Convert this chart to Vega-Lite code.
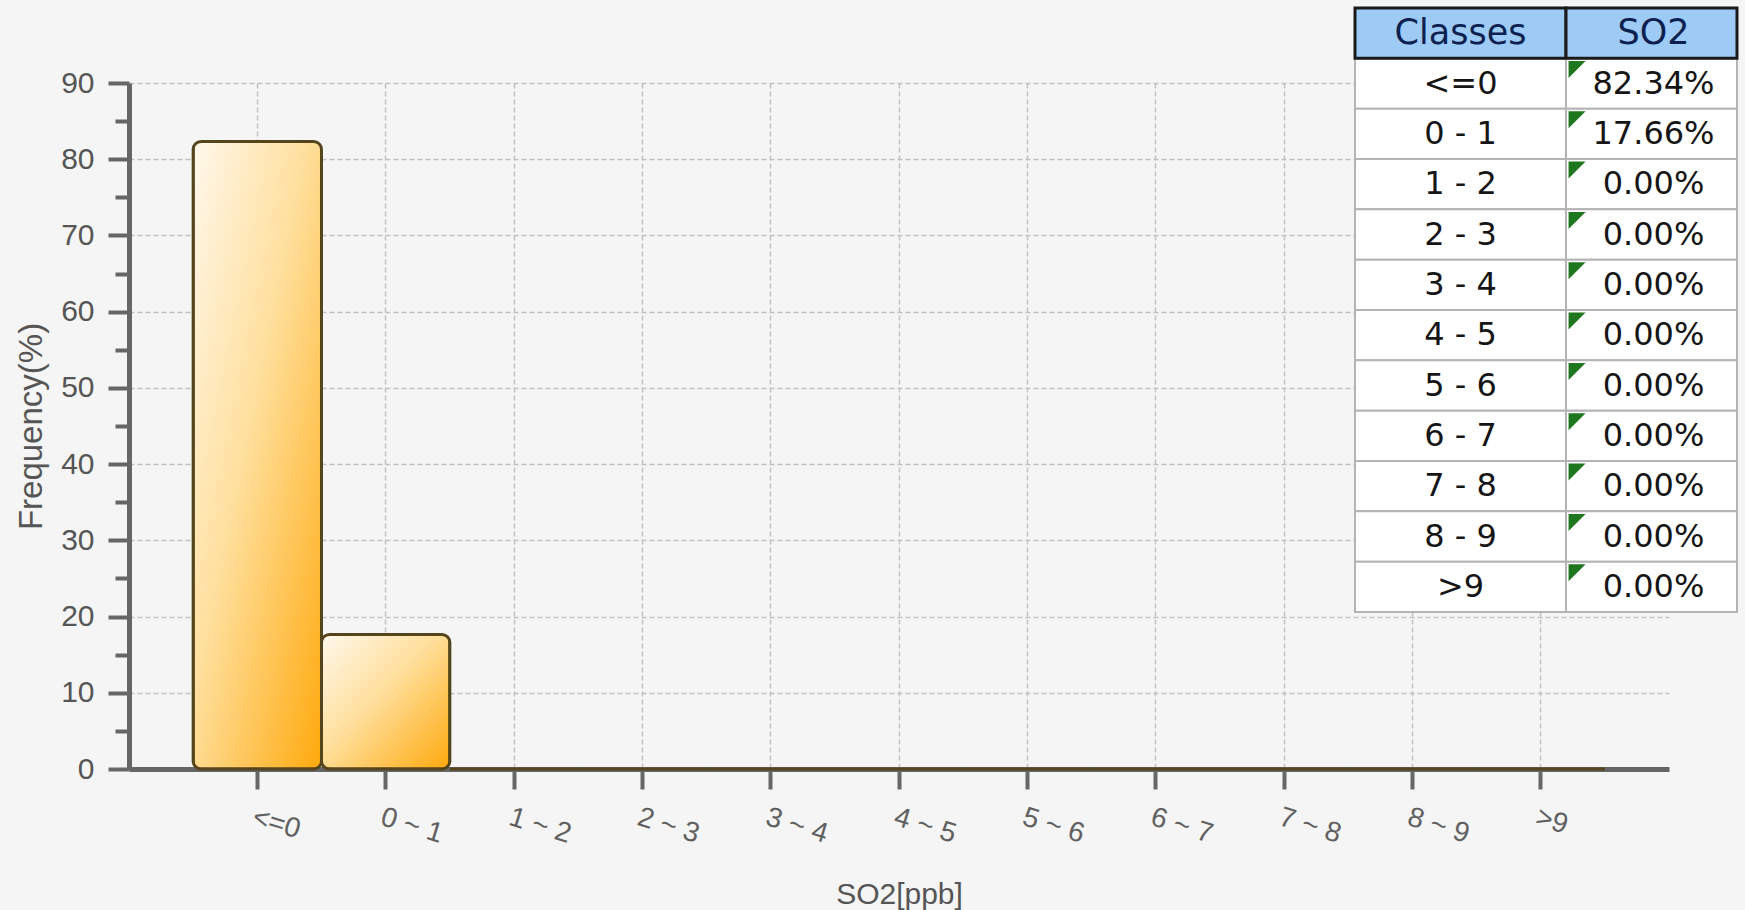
{
  "$schema": "https://vega.github.io/schema/vega-lite/v6.json",
  "width": 1540,
  "height": 686,
  "autosize": {"type": "none"},
  "padding": {"left": 129, "top": 83, "right": 76, "bottom": 141},
  "background": "#f5f5f5",
  "config": {"view": {"stroke": null}},
  "datasets": {
    "hist": [
      {"cls": "<=0", "v": 82.34},
      {"cls": "0 - 1", "v": 17.66},
      {"cls": "1 - 2", "v": 0},
      {"cls": "2 - 3", "v": 0},
      {"cls": "3 - 4", "v": 0},
      {"cls": "4 - 5", "v": 0},
      {"cls": "5 - 6", "v": 0},
      {"cls": "6 - 7", "v": 0},
      {"cls": "7 - 8", "v": 0},
      {"cls": "8 - 9", "v": 0},
      {"cls": ">9", "v": 0}
    ],
    "table": [
      {"row": "hdr", "col": "Classes", "text": "Classes"},
      {"row": "hdr", "col": "SO2", "text": "SO2"},
      {"row": "<=0", "col": "Classes", "text": "<=0"},
      {"row": "<=0", "col": "SO2", "text": "82.34%"},
      {"row": "0 - 1", "col": "Classes", "text": "0 - 1"},
      {"row": "0 - 1", "col": "SO2", "text": "17.66%"},
      {"row": "1 - 2", "col": "Classes", "text": "1 - 2"},
      {"row": "1 - 2", "col": "SO2", "text": "0.00%"},
      {"row": "2 - 3", "col": "Classes", "text": "2 - 3"},
      {"row": "2 - 3", "col": "SO2", "text": "0.00%"},
      {"row": "3 - 4", "col": "Classes", "text": "3 - 4"},
      {"row": "3 - 4", "col": "SO2", "text": "0.00%"},
      {"row": "4 - 5", "col": "Classes", "text": "4 - 5"},
      {"row": "4 - 5", "col": "SO2", "text": "0.00%"},
      {"row": "5 - 6", "col": "Classes", "text": "5 - 6"},
      {"row": "5 - 6", "col": "SO2", "text": "0.00%"},
      {"row": "6 - 7", "col": "Classes", "text": "6 - 7"},
      {"row": "6 - 7", "col": "SO2", "text": "0.00%"},
      {"row": "7 - 8", "col": "Classes", "text": "7 - 8"},
      {"row": "7 - 8", "col": "SO2", "text": "0.00%"},
      {"row": "8 - 9", "col": "Classes", "text": "8 - 9"},
      {"row": "8 - 9", "col": "SO2", "text": "0.00%"},
      {"row": ">9", "col": "Classes", "text": ">9"},
      {"row": ">9", "col": "SO2", "text": "0.00%"}
    ]
  },
  "layer": [
    {
      "data": {"name": "hist"},
      "mark": {
        "type": "bar",
        "cornerRadius": 8,
        "stroke": "#55451c",
        "strokeWidth": 3,
        "fill": {
          "gradient": "linear",
          "x1": 0, "y1": 0, "x2": 1, "y2": 1,
          "stops": [
            {"offset": 0, "color": "#fff8ec"},
            {"offset": 0.45, "color": "#ffdf9c"},
            {"offset": 1, "color": "#ffa90c"}
          ]
        }
      },
      "encoding": {
        "x": {
          "field": "cls",
          "type": "nominal",
          "sort": null,
          "scale": {"paddingInner": 0, "paddingOuter": 0.5},
          "axis": {
            "title": "SO2[ppb]",
            "titleFont": "Liberation Sans",
            "titleFontSize": 30,
            "titleFontWeight": "normal",
            "titleColor": "#555555",
            "titlePadding": 31,
            "labelAngle": 17,
            "labelAlign": "left",
            "labelBaseline": "top",
            "labelFont": "Liberation Sans",
            "labelFontSize": 28,
            "labelColor": "#606060",
            "labelPadding": 14,
            "labelExpr": "replace(datum.label, ' - ', ' ~ ')",
            "domainColor": "#666666",
            "domainWidth": 5,
            "tickColor": "#666666",
            "tickWidth": 4,
            "tickSize": 20,
            "grid": true,
            "gridColor": "#c2c2c2",
            "gridDash": [5, 3],
            "gridWidth": 1.5
          }
        },
        "y": {
          "field": "v",
          "type": "quantitative",
          "scale": {"domain": [0, 90], "nice": false},
          "axis": {
            "values": [0, 5, 10, 15, 20, 25, 30, 35, 40, 45, 50, 55, 60, 65, 70, 75, 80, 85, 90],
            "labelExpr": "datum.value % 10 === 0 ? datum.label : ''",
            "title": "Frequency(%)",
            "titleFont": "Liberation Sans",
            "titleFontSize": 33,
            "titleFontWeight": "normal",
            "titleColor": "#555555",
            "titlePadding": 12,
            "labelFont": "Liberation Sans",
            "labelFontSize": 30,
            "labelColor": "#555555",
            "labelPadding": 14,
            "domainColor": "#666666",
            "domainWidth": 5,
            "tickColor": "#666666",
            "tickWidth": 4,
            "tickSize": {"condition": {"test": "datum.value % 10 !== 0", "value": 14}, "value": 21},
            "grid": true,
            "gridColor": "#c2c2c2",
            "gridDash": [5, 3],
            "gridWidth": 1.5,
            "gridOpacity": {"condition": {"test": "datum.value % 10 !== 0", "value": 0}, "value": 1}
          }
        }
      }
    },
    {
      "data": {"name": "table"},
      "encoding": {
        "y": {
          "field": "row",
          "type": "nominal",
          "scale": {
            "domain": ["hdr", "<=0", "0 - 1", "1 - 2", "2 - 3", "3 - 4", "4 - 5", "5 - 6", "6 - 7", "7 - 8", "8 - 9", ">9"],
            "range": [-75, 529],
            "paddingInner": 0,
            "paddingOuter": 0
          },
          "axis": null
        }
      },
      "layer": [
        {
          "transform": [{"filter": "datum.col === 'Classes'"}],
          "encoding": {
            "x": {
              "field": "col",
              "type": "nominal",
              "scale": {"domain": ["Classes"], "range": [1226, 1437], "paddingInner": 0, "paddingOuter": 0},
              "axis": null
            }
          },
          "layer": [
            {
              "transform": [{"filter": "datum.row !== 'hdr'"}],
              "mark": {"type": "rect", "fill": "#ffffff", "stroke": "#b4b4b4", "strokeWidth": 2}
            },
            {
              "transform": [{"filter": "datum.row === 'hdr'"}],
              "mark": {"type": "rect", "fill": "#9dcbf5", "stroke": "#1a1a1a", "strokeWidth": 3}
            },
            {
              "mark": {"type": "text", "font": "DejaVu Sans", "align": "center", "baseline": "middle"},
              "encoding": {
                "text": {"field": "text"},
                "size": {"condition": {"test": "datum.row === 'hdr'", "value": 35}, "value": 32},
                "color": {"condition": {"test": "datum.row === 'hdr'", "value": "#0d2150"}, "value": "#151515"}
              }
            }
          ]
        },
        {
          "transform": [{"filter": "datum.col === 'SO2'"}],
          "encoding": {
            "x": {
              "field": "col",
              "type": "nominal",
              "scale": {"domain": ["SO2"], "range": [1437, 1608], "paddingInner": 0, "paddingOuter": 0},
              "axis": null
            }
          },
          "layer": [
            {
              "transform": [{"filter": "datum.row !== 'hdr'"}],
              "mark": {"type": "rect", "fill": "#ffffff", "stroke": "#b4b4b4", "strokeWidth": 2}
            },
            {
              "transform": [{"filter": "datum.row === 'hdr'"}],
              "mark": {"type": "rect", "fill": "#9dcbf5", "stroke": "#1a1a1a", "strokeWidth": 3}
            },
            {
              "mark": {"type": "text", "font": "DejaVu Sans", "align": "center", "baseline": "middle", "dx": 2},
              "encoding": {
                "text": {"field": "text"},
                "size": {"condition": {"test": "datum.row === 'hdr'", "value": 35}, "value": 32},
                "color": {"condition": {"test": "datum.row === 'hdr'", "value": "#0d2150"}, "value": "#151515"}
              }
            },
            {
              "transform": [{"filter": "datum.row !== 'hdr'"}],
              "mark": {"type": "point", "shape": "M0.3,0.3 L2.3,0.3 L0.3,2.3 Z", "filled": true, "size": 289, "opacity": 1, "color": "#1e761e"},
              "encoding": {
                "x": {"field": "col", "type": "nominal", "bandPosition": 0, "axis": null},
                "y": {"field": "row", "type": "nominal", "bandPosition": 0, "axis": null}
              }
            }
          ]
        }
      ],
      "resolve": {"scale": {"x": "independent"}}
    }
  ],
  "resolve": {
    "scale": {"x": "independent", "y": "independent"},
    "axis": {"x": "independent", "y": "independent"}
  }
}
